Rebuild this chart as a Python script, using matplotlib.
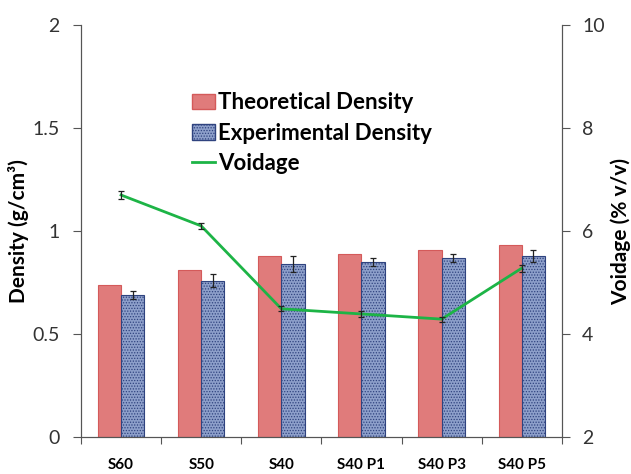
import matplotlib
matplotlib.use("Agg")
import matplotlib.pyplot as plt
import numpy as np
from matplotlib.patches import Patch
from matplotlib.lines import Line2D

plt.rcParams['font.family'] = ['Lato', 'DejaVu Sans']
plt.rcParams['hatch.color'] = '#2f437f'
plt.rcParams['hatch.linewidth'] = 0.6

categories = ["S60", "S50", "S40", "S40 P1", "S40 P3", "S40 P5"]
theoretical = [0.74, 0.81, 0.88, 0.89, 0.91, 0.93]
experimental = [0.69, 0.76, 0.84, 0.85, 0.87, 0.88]
experimental_err = [0.02, 0.03, 0.04, 0.02, 0.02, 0.03]
voidage = [6.70, 6.10, 4.49, 4.39, 4.29, 5.28]
voidage_err = [0.07, 0.05, 0.05, 0.05, 0.05, 0.07]

fig = plt.figure(figsize=(6.31, 4.74), dpi=100)
ax = fig.add_axes([0.1284, 0.078, 0.762, 0.869])
ax2 = ax.twinx()

x = np.arange(len(categories))
w = 0.29
ax.bar(x - w / 2, theoretical, w, color='#e07b7b', edgecolor='#d45a5a',
       linewidth=0.8, zorder=2)
ax.bar(x + w / 2, experimental, w, color='#8d9fca', edgecolor='#2f437f',
       linewidth=0.8, hatch='......', zorder=2)
ax.errorbar(x + w / 2, experimental, yerr=experimental_err, fmt='none',
            ecolor='#222222', elinewidth=0.9, capsize=2.5, capthick=0.9, zorder=3)

ax2.plot(x, voidage, color='#1db446', linewidth=2, zorder=4)
ax2.errorbar(x, voidage, yerr=voidage_err, fmt='none', ecolor='#222222',
             elinewidth=0.9, capsize=2.5, capthick=0.9, zorder=5)

ax.set_xlim(-0.5, len(categories) - 0.5)
ax.set_ylim(0, 2)
ax.set_yticks([0, 0.5, 1, 1.5, 2])
ax.set_yticklabels(['0', '0.5', '1', '1.5', '2'])
ax2.set_ylim(2, 10)
ax2.set_yticks([2, 4, 6, 8, 10])

ax.set_xticks(np.arange(len(categories) + 1) - 0.5)
ax.set_xticklabels([])
ax.set_xticks(x, minor=True)
ax.set_xticklabels(categories, minor=True, fontsize=11, fontweight='bold')
ax.tick_params(axis='x', which='minor', length=0, pad=15)
ax.tick_params(axis='x', which='major', length=5, direction='out', color='#555555')

for a in (ax, ax2):
    a.spines['top'].set_visible(False)
    for s in a.spines.values():
        s.set_color('#555555')
    a.tick_params(axis='y', labelsize=14, direction='out', length=5.5,
                  color='#555555', labelcolor='#333333')
ax.tick_params(axis='y', pad=10)
ax2.tick_params(axis='y', pad=9)

ax.set_ylabel('Density (g/cm\u00b3)', fontsize=15, fontweight='bold', labelpad=2)
ax2.set_ylabel('Voidage (% v/v)', fontsize=15, fontweight='bold', labelpad=4)

handles = [
    Patch(facecolor='#e07b7b', edgecolor='#d45a5a'),
    Patch(facecolor='#8d9fca', edgecolor='#2f437f', hatch='......'),
    Line2D([0], [0], color='#1db446', linewidth=2),
]
labels = ['Theoretical Density', 'Experimental Density', 'Voidage']
leg = ax.legend(handles, labels, loc='upper left', bbox_to_anchor=(0.19, 0.885),
                frameon=False, prop={'size': 16, 'weight': 'bold'},
                handlelength=1.0, handletextpad=0.15, labelspacing=0.42)

fig.savefig('out.png', dpi=100)
